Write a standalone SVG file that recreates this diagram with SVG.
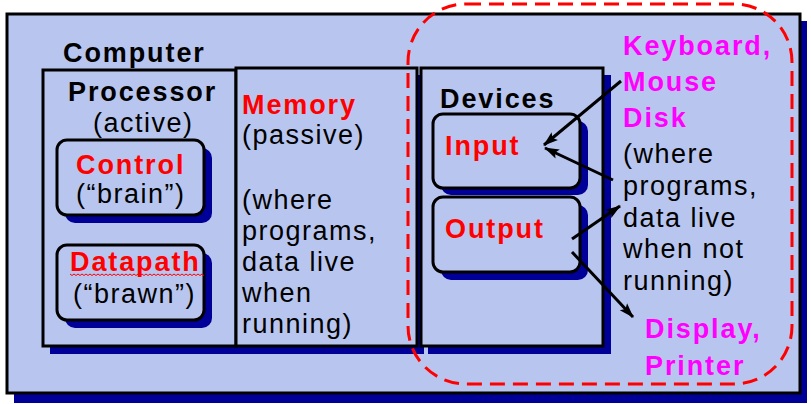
<svg xmlns="http://www.w3.org/2000/svg" width="811" height="404" viewBox="0 0 811 404">
<defs>
<style>
.box{fill:#B8C6EF;stroke:#000;stroke-width:3}
.sh{fill:#000099}
.t{font-family:"Liberation Sans",Arial,sans-serif;font-size:27px;letter-spacing:1.5px;fill:#000}
.b{font-weight:bold;letter-spacing:1.9px}
.red{fill:#FF0000}
.mag{fill:#FF00FF}
.arr{stroke:#000;stroke-width:3;fill:none;marker-end:url(#ah)}
</style>
<marker id="ah" markerUnits="userSpaceOnUse" markerWidth="16" markerHeight="12" refX="14" refY="6" orient="auto">
<path d="M0,1 L15,6 L0,11 L3,6 z" fill="#000"/>
</marker>
</defs>
<rect width="811" height="404" fill="#fff"/>
<g id="computer">
<rect class="sh" x="14" y="21" width="793" height="382"/>
<rect class="box" x="7" y="14" width="793" height="379"/>
<text class="t b" x="63" y="62">Computer</text>
</g>
<g id="processor">
<rect class="sh" x="50" y="77" width="193" height="277"/>
<rect class="box" x="43" y="70" width="193" height="276"/>
<text class="t b" x="68" y="101">Processor</text>
<text class="t" x="93" y="132">(active)</text>
</g>
<g id="memory">
<rect class="sh" x="243" y="75" width="181" height="279"/>
<rect class="box" x="236" y="68" width="181" height="278"/>
<text class="t b red" x="242" y="114">Memory</text>
<text class="t" x="242" y="144">(passive)</text>
<text class="t" x="242" y="209">(where</text>
<text class="t" x="242" y="240">programs,</text>
<text class="t" x="242" y="271">data live</text>
<text class="t" x="242" y="302">when</text>
<text class="t" x="242" y="333">running)</text>
</g>
<g id="control">
<rect class="sh" x="65" y="148" width="147" height="75" rx="10"/>
<rect class="box" x="57" y="140" width="147" height="75" rx="10"/>
<text class="t b red" x="76" y="174">Control</text>
<text class="t" x="76" y="203">(“brain”)</text>
</g>
<g id="datapath">
<rect class="sh" x="65" y="253" width="147" height="75" rx="10"/>
<rect class="box" x="57" y="245" width="147" height="75" rx="10"/>
<text class="t b red" x="70" y="271">Datapath</text>
<path d="M70,274 l2,1.5 l2,-1.5 l2,1.5 l2,-1.5 l2,1.5 l2,-1.5 l2,1.5 l2,-1.5 l2,1.5 l2,-1.5 l2,1.5 l2,-1.5 l2,1.5 l2,-1.5 l2,1.5 l2,-1.5 l2,1.5 l2,-1.5 l2,1.5 l2,-1.5 l2,1.5 l2,-1.5 l2,1.5 l2,-1.5 l2,1.5 l2,-1.5 l2,1.5 l2,-1.5 l2,1.5 l2,-1.5 l2,1.5 l2,-1.5 l2,1.5 l2,-1.5 l2,1.5 l2,-1.5 l2,1.5 l2,-1.5 l2,1.5 l2,-1.5 l2,1.5 l2,-1.5 l2,1.5 l2,-1.5 l2,1.5 l2,-1.5 l2,1.5 l2,-1.5 l2,1.5 l2,-1.5 l2,1.5 l2,-1.5 l2,1.5 l2,-1.5 l2,1.5 l2,-1.5 l2,1.5 l2,-1.5 l2,1.5 l2,-1.5 l2,1.5 l2,-1.5 l2,1.5 l2,-1.5 l2,1.5 l2,-1.5 l2,1.5" fill="none" stroke="#FF0000" stroke-width="1"/>
<text class="t" x="73" y="303">(“brawn”)</text>
</g>
<g id="devices">
<rect class="sh" x="428" y="75" width="183" height="279"/>
<rect class="box" x="421" y="68" width="182" height="278"/>
<text class="t b" x="440" y="108">Devices</text>
</g>
<g id="input">
<rect class="sh" x="441" y="121" width="147" height="74" rx="10"/>
<rect class="box" x="433" y="114" width="147" height="74" rx="10"/>
<text class="t b red" x="445" y="155">Input</text>
</g>
<g id="output">
<rect class="sh" x="441" y="205" width="147" height="75" rx="10"/>
<rect class="box" x="433" y="197" width="147" height="75" rx="10"/>
<text class="t b red" x="445" y="238">Output</text>
</g>
<g id="io-region">
<rect x="408" y="4" width="384" height="380" rx="58" fill="none" stroke="#FF0000" stroke-width="3" stroke-dasharray="15 8"/>
</g>
<g id="labels">
<text class="t b mag" x="623" y="55">Keyboard,</text>
<text class="t b mag" x="623" y="91">Mouse</text>
<text class="t b mag" x="623" y="127">Disk</text>
<text class="t" x="623" y="163">(where</text>
<text class="t" x="623" y="195">programs,</text>
<text class="t" x="623" y="227">data live</text>
<text class="t" x="623" y="258">when not</text>
<text class="t" x="623" y="290">running)</text>
<text class="t b mag" x="645" y="338">Display,</text>
<text class="t b mag" x="645" y="375">Printer</text>
</g>
<g id="connectors">
<line class="arr" x1="621" y1="81" x2="544" y2="145"/>
<line class="arr" x1="613" y1="180" x2="545" y2="148"/>
<line class="arr" x1="572" y1="239" x2="620" y2="206"/>
<line class="arr" x1="572" y1="252" x2="633" y2="317"/>
</g>
</svg>
